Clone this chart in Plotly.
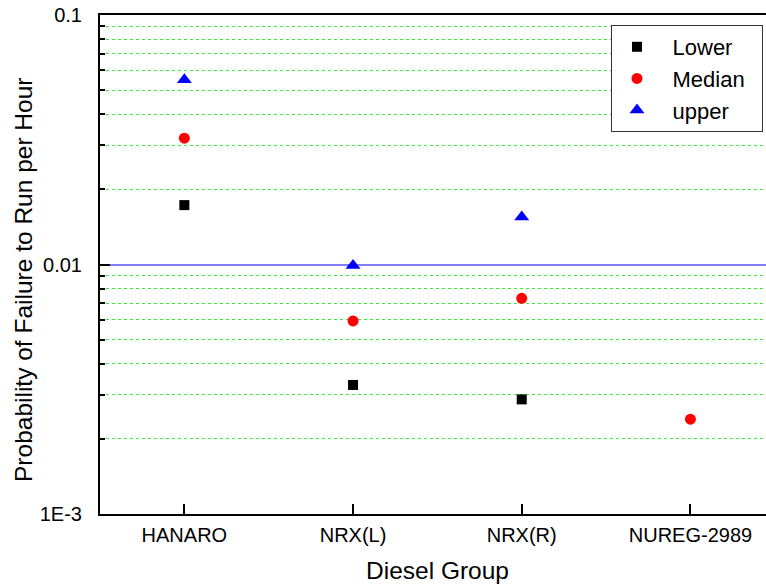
import plotly.graph_objects as go

categories = ["HANARO", "NRX(L)", "NRX(R)", "NUREG-2989"]
cat_pos = [1, 2, 3, 4]

lower_x = [1, 2, 3]
lower = [0.0173, 0.00329, 0.00288]
median_x = [1, 2, 3, 4]
median = [0.0321, 0.00594, 0.00732, 0.0024]
upper_x = [1, 2, 3]
upper = [0.055, 0.0099, 0.0155]

y_major = [0.001, 0.01, 0.1]
y_major_text = ["1E-3", "0.01", "0.1"]
y_minor = [m * d for d in [0.001, 0.01] for m in range(2, 10)]

FONT = "Arial, Liberation Sans, sans-serif"
PAD = "\u00a0\u2009"

fig = go.Figure()
fig.add_trace(go.Scatter(x=lower_x, y=lower, mode="markers", name=PAD + "Lower",
                         marker=dict(symbol="square", size=10, color="black")))
fig.add_trace(go.Scatter(x=median_x, y=median, mode="markers", name=PAD + "Median\u00a0\u00a0",
                         marker=dict(symbol="circle", size=11, color="red")))
fig.add_trace(go.Scatter(x=upper_x, y=upper, mode="markers", name=PAD + "upper",
                         marker=dict(symbol="triangle-up", size=13, color="blue")))

fig.update_layout(
    width=766, height=586,
    margin=dict(l=100, r=0, t=15, b=72),
    paper_bgcolor="white", plot_bgcolor="white",
    font=dict(family=FONT, color="black"),
    showlegend=True,
    legend=dict(x=0.9955, xanchor="right", y=0.98, yanchor="top",
                bgcolor="white", bordercolor="#333333", borderwidth=1,
                font=dict(size=22, family=FONT), itemwidth=40),
    xaxis=dict(range=[0.5, 4.448], tickvals=cat_pos, ticktext=categories,
               ticks="inside", ticklen=10, tickwidth=2, tickcolor="black",
               showline=True, linewidth=2, linecolor="black", mirror=True,
               showgrid=False, zeroline=False,
               tickfont=dict(size=20, family=FONT), ticklabelstandoff=2),
    yaxis=dict(type="log", range=[-3, -1], tickvals=y_major, ticktext=y_major_text,
               ticks="inside", ticklen=10, tickwidth=2, tickcolor="black",
               showline=True, linewidth=2, linecolor="black",
               showgrid=True, gridcolor="#7f7fff", gridwidth=1.5,
               zeroline=False,
               tickfont=dict(size=20, family=FONT), ticklabelstandoff=12,
               minor=dict(tickmode="array", tickvals=y_minor, ticks="inside",
                          ticklen=5, tickwidth=2, tickcolor="black",
                          showgrid=True, gridcolor="#33ee33", griddash="dot",
                          gridwidth=1)),
    annotations=[
        dict(text="Diesel Group", xref="paper", yref="paper", x=0.5068, y=-0.1142,
             xanchor="center", yanchor="middle", showarrow=False,
             font=dict(size=24.5, family=FONT)),
        dict(text="Probability of Failure to Run per Hour", xref="paper", yref="paper",
             x=-0.1141, y=0.469, xanchor="center", yanchor="middle", textangle=-90,
             showarrow=False, font=dict(size=24.5, family=FONT)),
    ],
)

fig.write_html("out.html", config={"displayModeBar": False},
               post_script="document.body.style.margin='0';document.body.style.overflow='hidden';")
